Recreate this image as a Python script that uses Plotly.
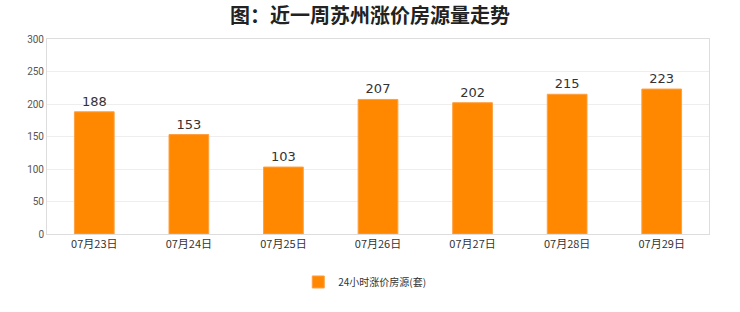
import plotly.graph_objects as go

categories = ["07月23日", "07月24日", "07月25日", "07月26日", "07月27日", "07月28日", "07月29日"]
values = [188, 153, 103, 207, 202, 215, 223]
series_name = "24小时涨价房源(套)"
title_text = "图：近一周苏州涨价房源量走势"
y_ticks = [0, 50, 100, 150, 200, 250, 300]

fig = go.Figure()
fig.add_trace(go.Bar(
    x=categories, y=values, name=series_name,
    marker=dict(color="#FF8800", line=dict(color="#FFA040", width=1)),
    width=0.42,
    text=[str(v) for v in values], textposition="outside",
    textfont=dict(family="DejaVu Sans", size=13, color="#333333"),
    cliponaxis=False,
))

fig.update_layout(
    width=740, height=312,
    margin=dict(l=47, r=31, t=39, b=78),
    paper_bgcolor="white", plot_bgcolor="white",
    title=dict(text=title_text, x=0.5, xanchor="center", y=0.948, yanchor="middle",
               font=dict(family="Noto Sans CJK SC", size=20, color="#222222", weight=600)),
    showlegend=True,
    legend=dict(orientation="h", x=0.48, xanchor="center", y=-0.246, yanchor="middle",
                font=dict(family="Noto Sans CJK SC", size=10, color="#333333"),
                itemwidth=30),
    xaxis=dict(type="category", showline=True, linecolor="#DDDDDD", linewidth=1, mirror=True,
               ticks="", tickfont=dict(family="Noto Sans CJK SC", size=11, color="#333333"),
               showgrid=False),
    yaxis=dict(range=[0, 300], tickvals=y_ticks, showline=True, linecolor="#DDDDDD", linewidth=1,
               mirror=True, gridcolor="#EEEEEE", gridwidth=1, zeroline=False,
               ticks="", tickfont=dict(family="Roboto", size=10, color="#555555")),
    bargap=0.58,
)

fig.write_html("out.html")
